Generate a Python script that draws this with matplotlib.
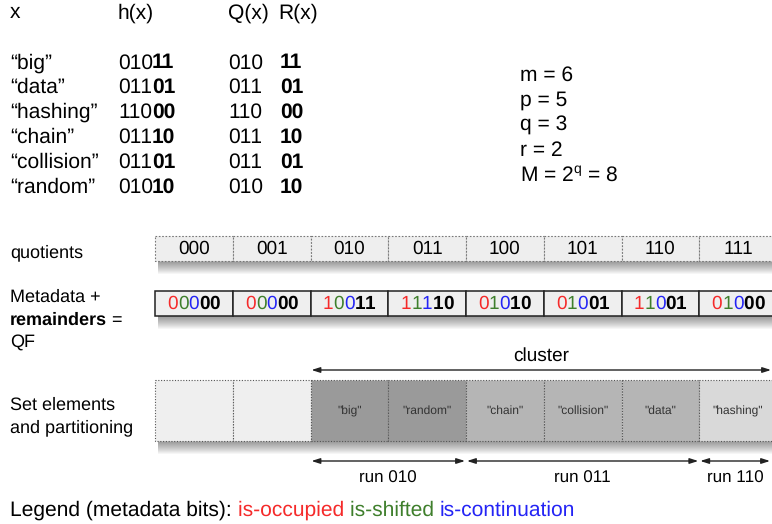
import matplotlib
matplotlib.use('Agg')
import matplotlib.pyplot as plt
from matplotlib.patches import Rectangle, FancyArrowPatch

plt.rcParams['font.family'] = ['Liberation Sans', 'DejaVu Sans']
plt.rcParams['mathtext.fontset'] = 'custom'
plt.rcParams['mathtext.rm'] = 'Liberation Sans'
plt.rcParams['text.hinting'] = 'no_hinting'
plt.rcParams['text.hinting_factor'] = 1

# table of hashed elements
words = ['big', 'data', 'hashing', 'chain', 'collision', 'random']
hashes = ['01011', '01101', '11000', '01110', '01101', '01010']
quots = ['010', '011', '110', '011', '011', '010']
rems = ['11', '01', '00', '10', '01', '10']

params = ['m = 6', 'p = 5', 'q = 3', 'r = 2', r'M = 2$^{\mathrm{q}}$ = 8']

# filter slots
slot_quots = ['000', '001', '010', '011', '100', '101', '110', '111']
occupied = ['0', '0', '1', '1', '0', '0', '1', '0']
shifted = ['0', '0', '0', '1', '1', '1', '1', '1']
continuation = ['0', '0', '0', '1', '0', '0', '0', '0']
slot_rems = ['00', '00', '11', '10', '10', '01', '01', '00']
slot_elems = ['', '', '"big"', '"random"', '"chain"', '"collision"', '"data"', '"hashing"']
slot_shade = ['#efefef', '#efefef', '#9a9a9a', '#9a9a9a', '#b5b5b5', '#b5b5b5', '#b5b5b5', '#d9d9d9']

runs = [('run 010', 2, 4), ('run 011', 4, 7), ('run 110', 7, 8)]
cluster = (2, 8)

RED = '#f52a2a'
GREEN = '#3f7f2c'
BLUE = '#2424f5'

fig = plt.figure(figsize=(7.72, 5.24), dpi=100)
ax = fig.add_axes([0, 0, 1, 1])
ax.set_xlim(0, 772)
ax.set_ylim(524, 0)
ax.axis('off')
renderer = fig.canvas.get_renderer()

FS = 14.8     # table / params / legend
FS_LAB = 12.8  # row labels
FS_QF = 13.8


def txt(x, y, s, **kw):
    kw.setdefault('fontsize', FS)
    kw.setdefault('va', 'center')
    return ax.text(x, y, s, **kw)


def width(t):
    return t.get_window_extent(renderer).width


def digit_w(fs, weight='normal'):
    t = ax.text(0, 0, '0' * 10, fontsize=fs, fontweight=weight)
    w = width(t) / 10
    t.remove()
    return w


CW = digit_w(FS)
CW_QF = digit_w(FS_QF, 'bold')

# header + table
txt(10, 13, 'x')
txt(118, 13, 'h(x)')
txt(228, 13, 'Q(x)')
txt(278, 13, 'R(x)')
for i, w in enumerate(words):
    y = 63 + i * 24.8
    txt(10, y, '\u201c' + w + '\u201d')
    txt(118, y, hashes[i][:3])
    txt(118 + 3 * CW - 1, y, hashes[i][3:], fontweight='bold')
    txt(228, y, quots[i])
    txt(280, y, rems[i], fontweight='bold')

for i, p in enumerate(params):
    txt(520, 75 + i * 25.2, p)

# row labels
txt(10, 253, 'quotients', fontsize=FS_LAB)
txt(10, 297, 'Metadata +', fontsize=FS_LAB)
t = txt(10, 320, 'remainders', fontsize=FS_LAB, fontweight='bold')
txt(10 + width(t), 320, ' =', fontsize=FS_LAB)
txt(10, 342, 'QF', fontsize=FS_LAB)
txt(10, 405, 'Set elements', fontsize=FS_LAB)
txt(10, 428, 'and partitioning', fontsize=FS_LAB)

x0, cell_w = 155, 77.75
edges = [x0 + i * cell_w for i in range(len(slot_quots) + 1)]


def shadow(x1, x2, y):
    # soft drop shadow: stacked translucent strips, darker close to the row
    for k in range(14):
        ax.add_patch(Rectangle((x1 + 3, y - 3), x2 - x1, k + 3, facecolor='black',
                               edgecolor='none', alpha=0.035, zorder=1))


# quotients row
shadow(edges[0], edges[-1], 261)
for i, q in enumerate(slot_quots):
    ax.add_patch(Rectangle((edges[i], 236), cell_w, 25, facecolor='#eeeeee',
                           edgecolor='#777777', lw=0.8, ls=(0, (1.5, 1.5)), zorder=2))
    txt(edges[i] + cell_w / 2, 249, q, ha='center', fontsize=13.6, zorder=3)

# QF row
shadow(edges[0], edges[-1], 316)
for i in range(len(slot_quots)):
    ax.add_patch(Rectangle((edges[i], 291), cell_w, 25, facecolor='#efefef',
                           edgecolor='#222222', lw=1.1, zorder=2))
    bits = [(occupied[i], RED, 'normal'), (shifted[i], GREEN, 'normal'),
            (continuation[i], BLUE, 'normal'),
            (slot_rems[i][0], 'black', 'bold'), (slot_rems[i][1], 'black', 'bold')]
    cx = edges[i] + cell_w / 2
    for j, (b, c, fw) in enumerate(bits):
        txt(cx + (j - 2) * CW_QF, 304, b, ha='center', color=c, fontweight=fw,
            fontsize=FS_QF, zorder=3)

# set elements row
shadow(edges[0], edges[-1], 441)
for i, e in enumerate(slot_elems):
    ax.add_patch(Rectangle((edges[i], 380), cell_w, 61, facecolor=slot_shade[i],
                           edgecolor='#555555', lw=0.8, ls=(0, (1, 1.5)), zorder=2))
    if e:
        txt(edges[i] + cell_w / 2, 411, e, ha='center', fontsize=8.8,
            color='#333333', zorder=3)


def span_arrow(a, b, y):
    ax.add_patch(FancyArrowPatch((a, y), (b, y),
                                 arrowstyle='<|-|>,head_length=5,head_width=1.6',
                                 lw=1, color='#222222', shrinkA=0, shrinkB=0,
                                 mutation_scale=1, zorder=3))


# cluster
ca, cb = edges[cluster[0]], min(edges[cluster[1]], 771)
span_arrow(ca + 1, cb, 370)
txt((ca + cb) / 2, 356, 'cluster', ha='center', fontsize=13.5)

for name, a, b in runs:
    xa, xb = edges[a] + 1, min(edges[b], 771) - 1
    span_arrow(xa, xb, 461)
    txt((xa + xb) / 2, 478, name, ha='center', fontsize=12.6)

# legend
x = 10
for s, c in [('Legend (metadata bits): ', 'black'), ('is-occupied ', RED),
             ('is-shifted ', GREEN), ('is-continuation', BLUE)]:
    t = txt(x, 510, s, color=c)
    x += width(t)

fig.savefig('out.png', dpi=100)
